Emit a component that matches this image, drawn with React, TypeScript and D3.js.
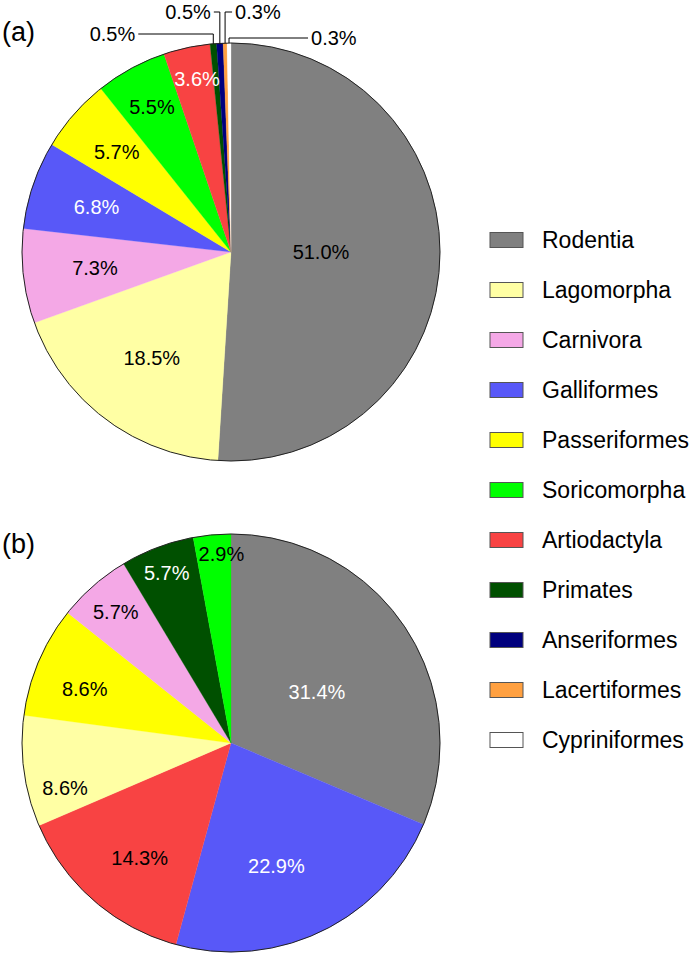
import React from "react";
import * as d3 from "d3";

const categories = ["Rodentia","Lagomorpha","Carnivora","Galliformes","Passeriformes","Soricomorpha","Artiodactyla","Primates","Anseriformes","Lacertiformes","Cypriniformes"];
const colors = ["#808080","#FFFFA4","#F4A8E6","#5858F8","#FFFF00","#00FF00","#F84343","#005000","#00007E","#FFA040","#FFFFFF"];

// Panel (a)
const aCats = ["Rodentia","Lagomorpha","Carnivora","Galliformes","Passeriformes","Soricomorpha","Artiodactyla","Primates","Anseriformes","Lacertiformes","Cypriniformes"];
const aValues = [51.0,18.5,7.3,6.8,5.7,5.5,3.6,0.5,0.5,0.3,0.3];
const aLabelR = [90,132,137,142,152,165,177,0,0,0,0];
const aLabelFrac = [0.49,0.5,0.5,0.5,0.5,0.5,0.59,0.5,0.5,0.5,0.5];
const aLabelColor = ["#000","#000","#000","#fff","#000","#000","#fff","","","",""];
// leader lines for tiny slices (index, elbow y, horizontal length)
const aLeaderIdx = [7,8,9,10];
const aLeaderY = [34,12,12,38];
const aLeaderDx = [-75,-6,7,79];

// Panel (b)
const bCats = ["Rodentia","Galliformes","Artiodactyla","Lagomorpha","Passeriformes","Carnivora","Primates","Soricomorpha"];
const bValues = [31.4,22.9,14.3,8.6,8.6,5.7,5.7,2.9];
const bLabelR = [100,131,147,172,156,175,182,189];
const bLabelFrac = [0.525,0.568,0.45,0.26,0.41,0.5,0.5,0.72];
const bLabelColor = ["#fff","#fff","#000","#000","#000","#000","#fff","#000"];

const FONT = "Liberation Sans, Arial, sans-serif";
const R = 209;

function Pie({cx, cy, cats, values, labelR, labelFrac, labelColor, leaderIdx = [], leaderY = [], leaderDx = []}: any) {
  const color = d3.scaleOrdinal<string, string>().domain(categories).range(colors);
  const pie = d3.pie<number>().sort(null).value((d) => d);
  const arcs = pie(values);
  const arc = d3.arc<any>().innerRadius(0).outerRadius(R);
  return (
    <g transform={`translate(${cx},${cy})`}>
      {arcs.map((a, i) => (
        <path key={i} d={arc(a) as string} fill={color(cats[i])} stroke={color(cats[i])} strokeWidth={0.3} />
      ))}
      <circle r={R} fill="none" stroke="#222" strokeWidth={1} />
      {arcs.map((a, i) => {
        if (!labelR[i]) return null;
        const m = a.startAngle + (a.endAngle - a.startAngle) * labelFrac[i];
        const x = Math.sin(m) * labelR[i];
        const y = -Math.cos(m) * labelR[i];
        return (
          <text key={"l" + i} x={x} y={y} dy="0.36em" textAnchor="middle" fontFamily={FONT} fontSize={20} fill={labelColor[i]}>
            {values[i].toFixed(1)}%
          </text>
        );
      })}
      {leaderIdx.map((idx: number, k: number) => {
        const a = arcs[idx];
        const m = (a.startAngle + a.endAngle) / 2;
        const x0 = Math.sin(m) * R;
        const y0 = -Math.cos(m) * R;
        const yE = leaderY[k] - cy;
        const x1 = x0 + leaderDx[k];
        const right = leaderDx[k] > 0;
        return (
          <g key={"ld" + k}>
            <path d={`M${x0},${y0}V${yE}H${x1}`} fill="none" stroke="#000" strokeWidth={1} />
            <text x={x1 + (right ? 3 : -3)} y={yE} dy="0.36em" textAnchor={right ? "start" : "end"} fontFamily={FONT} fontSize={20} fill="#000">
              {values[idx].toFixed(1)}%
            </text>
          </g>
        );
      })}
    </g>
  );
}

export default function App() {
  const color = d3.scaleOrdinal<string, string>().domain(categories).range(colors);
  const legendY = d3.scalePoint<string>().domain(categories).range([240, 740]);
  return (
    <svg width={700} height={954} style={{position: "absolute", left: 0, top: 0, background: "#fff"}}>
      <text x={2} y={41} fontFamily={FONT} fontSize={27} fill="#000">(a)</text>
      <text x={2} y={553} fontFamily={FONT} fontSize={27} fill="#000">(b)</text>
      <Pie cx={231} cy={252} cats={aCats} values={aValues} labelR={aLabelR} labelFrac={aLabelFrac} labelColor={aLabelColor}
        leaderIdx={aLeaderIdx} leaderY={aLeaderY} leaderDx={aLeaderDx} />
      <Pie cx={231} cy={743} cats={bCats} values={bValues} labelR={bLabelR} labelFrac={bLabelFrac} labelColor={bLabelColor} />
      {categories.map((c) => (
        <g key={c} transform={`translate(490,${legendY(c)})`}>
          <rect x={0} y={-7.5} width={33} height={15} fill={color(c)} stroke="#555" strokeWidth={1} />
          <text x={52} y={0} dy="0.36em" fontFamily={FONT} fontSize={23} fill="#000">{c}</text>
        </g>
      ))}
    </svg>
  );
}
